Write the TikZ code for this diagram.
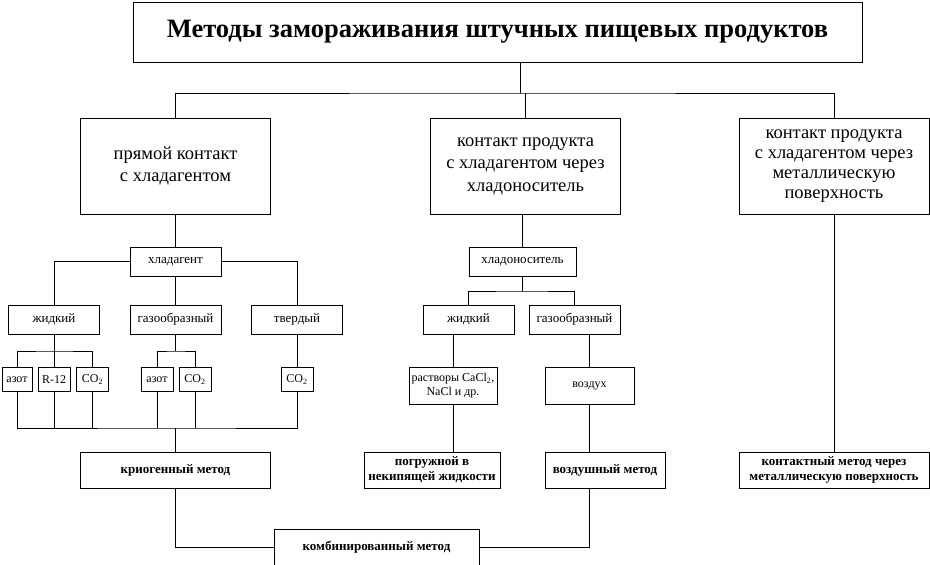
\documentclass[tikz,border=0pt]{standalone}
\usepackage{fontspec}
\setmainfont{Liberation Serif}

\begin{document}
\begin{tikzpicture}[x=1pt,y=-1pt,line width=0.7pt,
  box/.style={draw,rectangle,align=center,inner sep=0pt},
  big/.style={box,minimum width=190pt,minimum height=96pt,font=\fontsize{18.5}{22.5}\selectfont},
  mid/.style={box,minimum width=91pt,minimum height=29pt,font=\fontsize{13}{15}\selectfont},
  small/.style={box,minimum width=32pt,minimum height=24pt,font=\fontsize{12}{14}\selectfont},
  meth/.style={box,minimum height=36pt,font=\fontsize{13}{15}\selectfont\bfseries}]
  \useasboundingbox (0,0) rectangle (930,565);
  \node[box,minimum width=729pt,minimum height=60pt,font=\fontsize{26.5}{30}\selectfont\bfseries] (T) at (497.5,32) {Методы замораживания штучных пищевых продуктов};
  \node[big] (A) at (175.5,166) {прямой контакт\\ с хладагентом};
  \node[big] (B) at (525.5,166) {контакт продукта\\с хладагентом через\\хладоноситель};
  \node[big,font=\fontsize{18.5}{20}\selectfont] (C) at (834,166) {контакт продукта\\с хладагентом через\\металлическую\\поверхность};
  \node[mid] (R) at (175.5,261.5) {хладагент};
  \node[mid] (L1) at (54,319.5) {жидкий};
  \node[mid] (G1) at (175.5,319.5) {газообразный};
  \node[mid] (S1) at (297,319.5) {твердый};
  \node[small,minimum width=30pt] (N1) at (17,379.5) {азот};
  \node[small] (R12) at (54,379.5) {R-12};
  \node[small] (K1) at (92.5,379.5) {CO\textsubscript{2}};
  \node[small] (N2) at (157,379.5) {азот};
  \node[small] (K2) at (195,379.5) {CO\textsubscript{2}};
  \node[small] (K3) at (297,379.5) {CO\textsubscript{2}};
  \node[mid,minimum width=107pt] (H) at (522.5,261.5) {хладоноситель};
  \node[mid] (L2) at (468.5,319.5) {жидкий};
  \node[mid] (G2) at (574.5,319.5) {газообразный};
  \node[small,minimum width=88pt,minimum height=37pt] (P) at (453,385.5) {растворы CaCl\textsubscript{2},\\NaCl и др.};
  \node[small,minimum width=89pt,minimum height=37pt] (V) at (589.5,385.5) {воздух};
  \node[meth,minimum width=190pt] (M1) at (175.5,470) {криогенный метод};
  \node[meth,minimum width=136pt] (M2) at (432,470) {погружной в\\некипящей жидкости};
  \node[meth,minimum width=120pt] (M3) at (605,470) {воздушный метод};
  \node[meth,minimum width=190pt] (M4) at (834,470) {контактный метод через\\металлическую поверхность};
  \node[meth,minimum width=205pt] (M5) at (376.5,547) {комбинированный метод};
  \coordinate (J0) at (520,93);
  \coordinate (J1) at (54,351);
  \coordinate (J2) at (175.5,351);
  \coordinate (J3) at (175.5,428);
  \coordinate (J4) at (522.5,291);
  \draw (T.south -| J0) -- (J0);
  \draw (A) |- (J0) -| (C);
  \draw (B) -- (B |- J0);
  \draw (A) -- (R);
  \draw (L1) |- (R) -| (S1);
  \draw (R) -- (G1);
  \draw (R12) -- (L1);
  \draw (N1) |- (J1) -| (K1);
  \draw (G1) -- (J2);
  \draw (N2) |- (J2) -| (K2);
  \draw (S1) -- (K3);
  \draw (N1) |- (J3) -| (K3);
  \foreach \n in {R12,K1,N2,K2} \draw (\n) -- (\n |- J3);
  \draw (J3) -- (M1);
  \draw (M1) |- (M5);
  \draw (H) -- (H |- B.south);
  \draw (H) -- (J4);
  \draw (L2) |- (J4) -| (G2);
  \draw (P) -- (P |- L2.south);
  \draw (V) -- (V |- G2.south);
  \draw (P) -- (P |- M2.north);
  \draw (V) -- (V |- M3.north);
  \draw (V |- M3.south) |- (M5);
  \draw (C) -- (M4);
\end{tikzpicture}
\end{document}
